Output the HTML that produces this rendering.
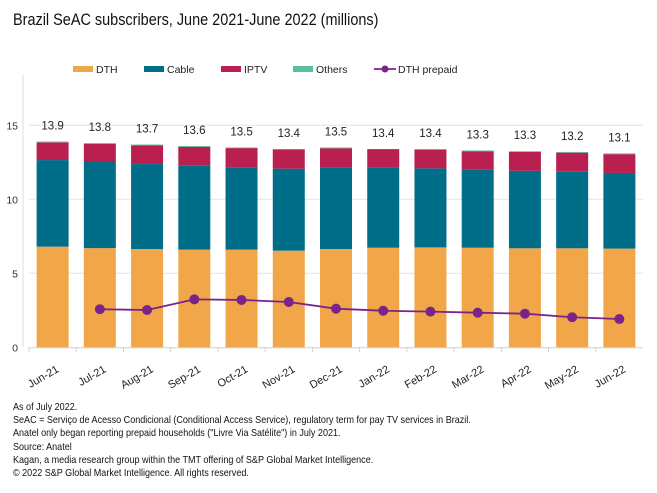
<!DOCTYPE html>
<html><head><meta charset="utf-8"><style>
html,body{margin:0;padding:0;background:#fff;width:657px;height:493px;overflow:hidden;font-family:"Liberation Sans",sans-serif;}
#title{position:absolute;left:13px;top:10px;font-size:17px;color:#111;white-space:nowrap;transform:scaleX(0.85);transform-origin:0 0;}
#foot{position:absolute;left:13px;top:401px;font-size:10.5px;line-height:13.2px;color:#111;white-space:nowrap;transform:scaleX(0.86);transform-origin:0 0;}
svg{position:absolute;left:0;top:0;}
</style></head><body>
<div id="title">Brazil SeAC subscribers, June 2021-June 2022 (millions)</div>
<svg id="chart" width="657" height="400"></svg>
<div id="foot">As of July 2022.<br>SeAC = Serviço de Acesso Condicional (Conditional Access Service), regulatory term for pay TV services in Brazil.<br>Anatel only began reporting prepaid households ("Livre Via Satélite") in July 2021.<br>Source: Anatel<br>Kagan, a media research group within the TMT offering of S&amp;P Global Market Intelligence.<br>© 2022 S&amp;P Global Market Intelligence. All rights reserved.</div>
<script>
const categories=["Jun-21","Jul-21","Aug-21","Sep-21","Oct-21","Nov-21","Dec-21","Jan-22","Feb-22","Mar-22","Apr-22","May-22","Jun-22"];
const dth=[6.8,6.7,6.64,6.6,6.6,6.53,6.64,6.73,6.75,6.73,6.69,6.69,6.67];
const cable=[5.85,5.82,5.74,5.67,5.56,5.54,5.5,5.41,5.34,5.3,5.24,5.17,5.11];
const iptv=[1.2,1.23,1.27,1.28,1.3,1.29,1.31,1.25,1.26,1.22,1.27,1.29,1.27];
const others=[0.05,0.05,0.05,0.05,0.04,0.04,0.05,0.01,0.05,0.05,0.05,0.05,0.05];
const totals=["13.9","13.8","13.7","13.6","13.5","13.4","13.5","13.4","13.4","13.3","13.3","13.2","13.1"];
const prepaid=[null,2.57,2.52,3.24,3.2,3.06,2.61,2.47,2.41,2.34,2.27,2.03,1.91];
const yTicks=[0,5,10,15];

const svg=document.getElementById('chart');
const NS='http://www.w3.org/2000/svg';
function mk(t,a,p){const e=document.createElementNS(NS,t);for(const k in a)e.setAttribute(k,a[k]);(p||svg).appendChild(e);return e;}
const x0=29,x1=643,y0=347.3,pxPer=14.8;
const y=v=>y0-v*pxPer;
const step=(x1-x0)/categories.length;
const xc=i=>x0+step*(i+0.5);
const bw=32;

yTicks.forEach(t=>{
  if(t>0){const g=mk('line',{x1:x0,x2:x1,y1:y(t),y2:y(t),stroke:'#e3e3e3','stroke-width':1});
  
  }
  const tl=mk('text',{x:18,y:y(t)+4,'text-anchor':'end','font-size':'10.5',fill:'#333'});tl.textContent=t;
  
  
});
const ax=mk('line',{x1:x0-6,x2:x0-6,y1:75,y2:y0,stroke:'#ddd'});


const bx=mk('line',{x1:x0,x2:x1,y1:y0+0.5,y2:y0+0.5,stroke:'#d0d0d0'});



const series=[[dth,'#f2a64a','dth'],[cable,'#006d89','cable'],[iptv,'#b91f4f','iptv'],[others,'#5bbf9f','others']];
categories.forEach((c,i)=>{
  const tk=mk('line',{x1:x0+step*i,x2:x0+step*i,y1:y0,y2:y0+5,stroke:'#d0d0d0'});
  
  
  let acc=0;
  series.forEach(([arr,col,nm])=>{
    const r=mk('rect',{x:xc(i)-bw/2,y:y(acc+arr[i]),width:bw,height:arr[i]*pxPer,fill:col});
    
    
    acc+=arr[i];
  });
  const tv=mk('text',{x:xc(i),y:y(acc)-12,'text-anchor':'middle','font-size':'11.5',fill:'#222'});tv.textContent=totals[i];
  
  
  const xl=mk('text',{x:xc(i)+7,y:y0+24,'text-anchor':'end','font-size':'11',fill:'#222',transform:`rotate(-30 ${xc(i)+7} ${y0+24})`});xl.textContent=c;
  
  
});
let d='';
prepaid.forEach((v,i)=>{if(v==null)return;d+=(d?'L':'M')+xc(i)+' '+y(v);});
const pl=mk('path',{d:d,fill:'none',stroke:'#7b2388','stroke-width':1.8});


prepaid.forEach((v,i)=>{if(v==null)return;
  const p=mk('circle',{cx:xc(i),cy:y(v),r:5,fill:'#7b2388'});
  
  
});
const leg=[['DTH','#f2a64a',73],['Cable','#006d89',144],['IPTV','#b91f4f',221],['Others','#5bbf9f',293]];
leg.forEach(([n,c,x])=>{
  const g=mk('g',{});
  
  
  mk('rect',{x:x,y:66,width:20,height:6,fill:c},g);
  const t=mk('text',{x:x+23,y:73,'font-size':'10.5',fill:'#222'},g);t.textContent=n;
});
const lg=mk('g',{});


mk('line',{x1:374,x2:396,y1:69,y2:69,stroke:'#7b2388','stroke-width':1.8},lg);
mk('circle',{cx:385,cy:69,r:3.5,fill:'#7b2388'},lg);
const lt=mk('text',{x:398,y:73,'font-size':'10.5',fill:'#222'},lg);lt.textContent='DTH prepaid';
</script>
</body></html>
